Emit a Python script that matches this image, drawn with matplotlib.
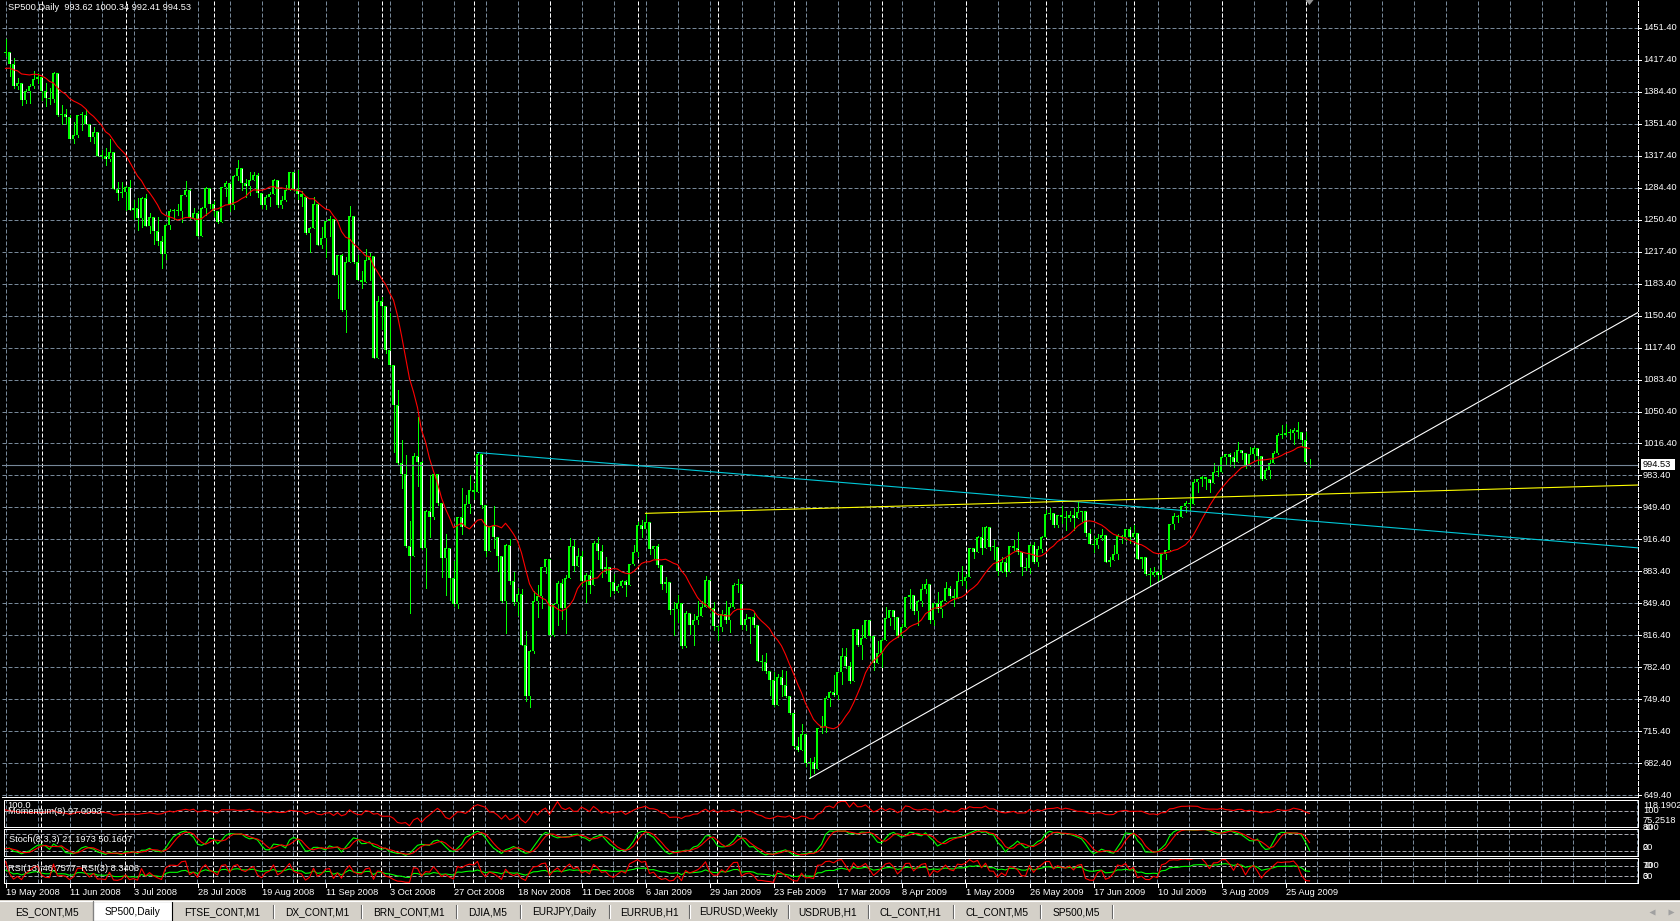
import numpy as np
import pandas as pd
import matplotlib
matplotlib.use('Agg')
import matplotlib.pyplot as plt
from matplotlib.patches import Rectangle, Polygon

# ---------------- data: SP500 daily, 19 May 2008 .. 2 Sep 2009 ----------------
warmup_closes = [1390.9, 1385.6, 1409.3, 1413.9, 1407.5, 1418.3, 1392.6, 1397.7, 1388.3,
                 1403.6, 1403.0, 1408.7, 1423.6, 1425.4]

opens = [
    1425.3, 1426.6, 1413.4, 1390.7, 1394.4, 1375.9, 1385.4, 1390.8, 1398.3,  # May 08
    1400.4, 1385.7, 1377.7, 1377.2, 1404.1, 1360.7, 1361.8, 1358.4, 1335.5, 1339.9, 1360.0,
    1360.1, 1350.9, 1337.8, 1342.8, 1317.9, 1318.0, 1314.3, 1322.0, 1283.2, 1278.4,  # Jun
    1280.0, 1284.9, 1261.5, 1262.9, 1252.3, 1273.7, 1244.7, 1253.4, 1239.5, 1228.3, 1214.9,
    1245.4, 1260.3, 1260.7, 1260.0, 1277.0, 1282.2, 1252.5, 1257.8, 1234.4, 1263.2, 1284.3,  # Jul
    1267.4, 1260.3, 1249.0, 1284.9, 1289.2, 1266.1, 1296.3, 1305.3, 1289.6, 1285.8, 1292.9,
    1298.2, 1278.6, 1266.7, 1274.5, 1277.7, 1292.2, 1266.8, 1271.5, 1281.7, 1300.7,  # Aug
    1282.8, 1277.6, 1275.0, 1236.8, 1242.3, 1267.8, 1224.5, 1232.0, 1249.1, 1251.7, 1192.7,
    1213.6, 1156.4, 1206.5, 1255.1, 1207.1, 1188.2, 1185.9, 1209.2, 1213.3, 1106.4,  # Sep
    1166.4, 1161.1, 1114.3, 1099.2, 1056.9, 996.2, 984.9, 909.9, 899.2, 1003.4, 998.0, 907.8,
    946.4, 940.6, 985.4, 955.1, 896.8, 908.1, 876.8, 848.9, 940.5, 930.1, 954.1,  # Oct
    968.8, 966.3, 1005.8, 952.8, 904.9, 931.0, 919.2, 899.0, 852.3, 911.3, 873.3, 850.8,
    859.1, 806.6, 752.4, 800.0, 851.8, 857.4, 887.7,  # Nov
    896.2, 816.2, 848.8, 870.7, 845.2, 876.1, 909.7, 888.7, 899.2, 873.6, 879.7, 868.6,
    913.2, 904.4, 885.3, 887.9, 871.6, 863.2, 868.2, 872.8, 869.4, 890.6,  # Dec
    903.3, 931.8, 927.5, 934.7, 906.7, 909.7, 890.4, 870.3, 871.8, 842.6, 843.7, 850.1,
    805.2, 840.2, 827.5, 832.0, 836.6, 845.7, 874.1, 845.1,  # Jan 09
    825.9, 825.4, 838.5, 832.2, 845.9, 868.6, 869.9, 827.2, 833.7, 835.2, 826.8, 789.2,
    788.4, 778.9, 770.1, 743.3, 773.1, 764.9, 752.8,  # Feb
    735.1, 700.8, 696.3, 712.9, 682.6, 683.4, 676.5, 719.6, 721.4, 750.7, 756.6, 753.9,
    778.1, 794.4, 784.0, 768.5, 822.9, 806.1, 813.9, 832.9, 815.9, 787.5,  # Mar
    797.9, 811.1, 834.4, 842.5, 835.5, 815.6, 825.2, 856.6, 858.7, 841.5, 852.1, 865.3,
    869.6, 832.4, 850.1, 843.6, 851.9, 866.2, 857.5, 855.2, 873.6,  # Apr
    872.8, 877.5, 907.2, 903.8, 919.5, 907.4, 929.2, 909.2, 908.4, 883.9, 893.1, 882.9,
    909.7, 908.1, 903.5, 888.3, 887.0, 910.3, 893.1, 906.8,  # May
    919.1, 942.9, 944.7, 931.8, 942.5, 940.1, 939.1, 942.4, 939.2, 944.9, 946.2, 923.7,
    912.0, 910.7, 918.4, 921.2, 893.0, 895.1, 900.9, 920.3, 918.9, 927.2,  # Jun
    919.3, 923.3, 896.4, 898.7, 881.0, 879.6, 882.7, 879.1, 901.1, 905.8, 932.7, 940.7,
    940.4, 951.1, 954.6, 954.1, 976.3, 979.3, 982.2, 979.6, 975.2, 986.8,  # Jul
    987.5, 1002.6, 1005.7, 1002.7, 997.1, 1010.5, 1007.1, 994.4, 1005.8, 1012.7, 1004.1,
    979.7, 989.7, 996.5, 1007.4, 1026.1, 1025.6, 1028.0, 1028.1, 1031.0, 1028.9,  # Aug
    1020.6, 993.6,  # Sep
]

highs = [
    1440.2, 1426.6, 1419.7, 1399.1, 1394.4, 1387.4, 1393.0, 1406.3, 1404.5,
    1400.4, 1393.4, 1388.2, 1405.3, 1404.1, 1370.6, 1366.8, 1360.0, 1353.0, 1360.5, 1363.5,
    1366.6, 1350.9, 1348.3, 1342.8, 1323.6, 1326.0, 1335.6, 1322.0, 1290.0, 1290.7,
    1285.7, 1292.2, 1271.2, 1273.9, 1274.7, 1277.4, 1257.7, 1253.4, 1253.5, 1234.4, 1246.0,
    1262.3, 1262.2, 1267.7, 1277.1, 1291.2, 1283.0, 1263.2, 1260.1, 1264.2, 1284.9, 1284.3,
    1270.5, 1260.3, 1284.9, 1291.7, 1289.2, 1297.9, 1313.2, 1305.3, 1294.0, 1300.9, 1300.8,
    1300.2, 1278.6, 1276.7, 1279.6, 1293.1, 1292.2, 1275.8, 1286.9, 1300.7, 1300.7,
    1303.0, 1280.6, 1275.0, 1243.1, 1274.4, 1268.7, 1243.7, 1249.1, 1255.1, 1251.7, 1214.0,
    1214.8, 1211.6, 1265.1, 1255.1, 1214.2, 1197.4, 1220.0, 1215.8, 1213.3, 1171.4,
    1170.1, 1161.1, 1153.8, 1099.2, 1072.9, 1021.1, 1005.0, 936.4, 1006.9, 1044.3, 999.0,
    947.7, 984.4, 985.4, 985.4, 955.1, 922.8, 908.1, 893.8, 940.5, 970.0, 963.2, 984.4,
    975.5, 1007.5, 1005.8, 952.8, 931.0, 951.9, 919.2, 899.0, 911.9, 916.9, 882.3, 865.9,
    864.6, 820.5, 801.2, 862.9, 868.9, 887.7, 896.3,
    896.2, 850.5, 873.1, 875.6, 879.4, 918.6, 916.3, 908.0, 904.6, 881.3, 884.6, 914.9,
    918.9, 911.0, 897.8, 887.9, 880.4, 869.8, 873.7, 873.7, 891.1, 910.3,
    934.7, 936.6, 943.9, 934.7, 910.0, 911.9, 890.4, 877.0, 871.8, 851.6, 858.1, 850.1,
    841.7, 840.2, 838.2, 852.5, 852.5, 877.9, 874.1, 851.7,
    825.9, 842.6, 851.9, 850.6, 870.7, 875.0, 869.9, 838.2, 835.5, 839.4, 826.8, 796.2,
    797.6, 778.9, 777.5, 775.5, 780.1, 779.4, 753.0,
    735.1, 709.7, 724.1, 712.9, 688.4, 689.0, 719.6, 731.9, 752.6, 758.3, 774.5, 778.1,
    803.0, 803.0, 788.9, 823.0, 823.3, 826.8, 832.9, 832.9, 815.9, 810.9,
    813.6, 845.6, 842.5, 842.5, 835.5, 828.4, 856.9, 864.3, 858.7, 853.4, 870.4, 875.6,
    869.6, 850.1, 861.8, 852.9, 871.8, 868.3, 864.5, 882.1, 888.7,
    880.5, 907.9, 907.7, 920.3, 929.6, 930.2, 929.2, 915.6, 908.4, 898.4, 897.0, 910.0,
    916.4, 924.6, 903.5, 896.7, 911.8, 913.8, 909.5, 920.0,
    947.8, 949.4, 944.7, 942.5, 951.7, 946.3, 946.3, 949.8, 956.2, 946.3, 946.2, 928.0,
    919.7, 922.0, 927.1, 921.4, 898.7, 910.9, 922.0, 921.4, 928.0, 930.0,
    931.9, 923.3, 898.7, 898.7, 886.8, 887.9, 883.6, 901.1, 905.8, 933.0, 944.0, 941.9,
    951.6, 956.5, 959.8, 979.4, 979.8, 982.5, 982.2, 979.6, 996.7, 993.2,
    1003.6, 1005.7, 1006.6, 1008.0, 1018.0, 1010.5, 1007.1, 1012.8, 1013.1, 1012.7, 1004.1,
    991.2, 999.8, 1008.9, 1027.6, 1035.8, 1037.8, 1032.5, 1033.0, 1039.5, 1028.9,
    1028.5, 1000.3,
]

lows = [
    1421.6, 1401.5, 1388.8, 1387.2, 1370.7, 1373.1, 1373.0, 1388.6, 1394.0,
    1376.0, 1370.1, 1371.7, 1373.6, 1359.9, 1350.6, 1351.5, 1335.1, 1331.3, 1337.4, 1344.7,
    1350.5, 1333.3, 1330.9, 1317.5, 1315.4, 1307.9, 1312.0, 1283.1, 1272.0, 1274.9,
    1260.7, 1261.5, 1252.0, 1240.7, 1242.8, 1244.6, 1236.8, 1225.4, 1225.0, 1200.4, 1210.2,
    1241.4, 1251.8, 1255.5, 1248.8, 1276.1, 1251.5, 1251.8, 1234.1, 1234.4, 1255.9, 1262.8,
    1254.5, 1247.5, 1249.0, 1276.0, 1260.0, 1262.1, 1292.8, 1282.4, 1274.9, 1276.6, 1292.7,
    1274.5, 1263.2, 1261.7, 1265.0, 1277.7, 1264.3, 1263.2, 1270.3, 1281.7, 1282.1,
    1272.2, 1265.6, 1236.3, 1217.3, 1242.3, 1224.5, 1221.6, 1211.5, 1233.8, 1192.7, 1169.3,
    1155.9, 1133.5, 1206.5, 1205.6, 1187.8, 1179.8, 1185.9, 1187.5, 1106.0, 1106.4,
    1136.5, 1111.4, 1098.1, 1008.0, 995.0, 970.0, 909.2, 839.8, 899.2, 972.1, 907.0,
    865.8, 918.7, 937.5, 952.5, 877.0, 858.4, 852.9, 846.8, 845.3, 922.3, 930.1, 944.6,
    958.8, 966.3, 949.9, 899.7, 904.9, 907.5, 884.1, 850.9, 818.7, 869.9, 848.0, 837.3,
    806.2, 747.8, 741.0, 798.0, 835.0, 845.0, 881.2,
    815.7, 816.0, 827.6, 833.6, 818.4, 876.1, 883.5, 888.7, 869.5, 851.4, 860.1, 868.6,
    895.9, 877.4, 882.0, 857.1, 860.7, 861.4, 866.5, 857.1, 869.4, 889.6,
    899.4, 919.5, 927.3, 901.3, 896.8, 888.3, 864.3, 862.0, 838.3, 817.0, 830.7, 803.4,
    804.3, 817.7, 806.1, 827.7, 836.6, 845.7, 843.2, 821.7,
    811.1, 821.0, 829.2, 819.9, 845.4, 861.7, 822.9, 822.0, 808.1, 825.2, 789.1, 780.4,
    777.0, 754.3, 742.4, 743.3, 752.9, 751.8, 734.5,
    699.7, 695.4, 696.3, 679.3, 666.8, 672.9, 676.5, 713.9, 714.8, 742.5, 753.4, 749.9,
    765.6, 781.8, 766.2, 768.5, 805.0, 791.4, 813.9, 814.3, 779.8, 787.5,
    783.3, 811.1, 826.7, 822.9, 814.5, 814.8, 825.2, 845.4, 838.9, 827.2, 847.0, 860.9,
    829.0, 826.8, 840.6, 835.6, 851.9, 855.2, 847.1, 855.2, 868.5,
    866.1, 877.5, 897.3, 903.8, 901.4, 907.4, 905.8, 896.5, 879.6, 882.5, 878.9, 882.9,
    905.2, 901.4, 879.6, 884.3, 881.5, 891.9, 888.7, 903.6,
    919.1, 938.5, 929.2, 929.3, 934.1, 926.4, 936.1, 926.0, 939.0, 935.7, 919.7, 911.6,
    903.4, 907.9, 915.8, 893.0, 888.9, 895.1, 896.3, 913.3, 916.2, 912.9,
    919.3, 896.4, 886.4, 879.9, 869.3, 878.5, 872.8, 875.3, 896.1, 905.8, 927.5, 934.9,
    940.4, 944.9, 947.9, 953.3, 965.9, 972.3, 969.4, 965.9, 975.2, 982.9,
    987.5, 994.3, 993.4, 992.5, 997.1, 1000.8, 991.0, 993.4, 1000.8, 994.6, 978.5,
    979.7, 980.6, 996.4, 1006.0, 1022.5, 1025.6, 1021.3, 1016.2, 1023.1, 1014.0,
    996.3, 992.4,
]

closes = [
    1426.6, 1413.4, 1390.7, 1394.4, 1375.9, 1385.4, 1390.8, 1398.3, 1400.4,
    1385.7, 1377.7, 1377.2, 1404.1, 1360.7, 1361.8, 1358.4, 1335.5, 1339.9, 1360.0, 1360.1,
    1350.9, 1337.8, 1342.8, 1317.9, 1318.0, 1314.3, 1322.0, 1283.2, 1278.4, 1280.0,
    1284.9, 1261.5, 1262.9, 1252.3, 1273.7, 1244.7, 1253.4, 1239.5, 1228.3, 1214.9, 1245.4,
    1260.3, 1260.7, 1260.0, 1277.0, 1282.2, 1252.5, 1257.8, 1234.4, 1263.2, 1284.3, 1267.4,
    1260.3, 1249.0, 1284.9, 1289.2, 1266.1, 1296.3, 1305.3, 1289.6, 1285.8, 1292.9, 1298.2,
    1278.6, 1266.7, 1274.5, 1277.7, 1292.2, 1266.8, 1271.5, 1281.7, 1300.7, 1282.8,
    1277.6, 1275.0, 1236.8, 1242.3, 1267.8, 1224.5, 1232.0, 1249.1, 1251.7, 1192.7, 1213.6,
    1156.4, 1206.5, 1255.1, 1207.1, 1188.2, 1185.9, 1209.2, 1213.3, 1106.4, 1166.4,
    1161.1, 1114.3, 1099.2, 1056.9, 996.2, 984.9, 909.9, 899.2, 1003.4, 998.0, 907.8,
    946.4, 940.6, 985.4, 955.1, 896.8, 908.1, 876.8, 848.9, 940.5, 930.1, 954.1, 968.8,
    966.3, 1005.8, 952.8, 904.9, 931.0, 919.2, 899.0, 852.3, 911.3, 873.3, 850.8, 859.1,
    806.6, 752.4, 800.0, 851.8, 857.4, 887.7, 896.2,
    816.2, 848.8, 870.7, 845.2, 876.1, 909.7, 888.7, 899.2, 873.6, 879.7, 868.6, 913.2,
    904.4, 885.3, 887.9, 871.6, 863.2, 868.2, 872.8, 869.4, 890.6, 903.3,
    931.8, 927.5, 934.7, 906.7, 909.7, 890.4, 870.3, 871.8, 842.6, 843.7, 850.1, 805.2,
    840.2, 827.5, 832.0, 836.6, 845.7, 874.1, 845.1, 825.9,
    825.4, 838.5, 832.2, 845.9, 868.6, 869.9, 827.2, 833.7, 835.2, 826.8, 789.2, 788.4,
    778.9, 770.1, 743.3, 773.1, 764.9, 752.8, 735.1,
    700.8, 696.3, 712.9, 682.6, 683.4, 676.5, 719.6, 721.4, 750.7, 756.6, 753.9, 778.1,
    794.4, 784.0, 768.5, 822.9, 806.1, 813.9, 832.9, 815.9, 787.5, 797.9,
    811.1, 834.4, 842.5, 835.5, 815.6, 825.2, 856.6, 858.7, 841.5, 852.1, 865.3, 869.6,
    832.4, 850.1, 843.6, 851.9, 866.2, 857.5, 855.2, 873.6, 872.8,
    877.5, 907.2, 903.8, 919.5, 907.4, 929.2, 909.2, 908.4, 883.9, 893.1, 882.9, 909.7,
    908.1, 903.5, 888.3, 887.0, 910.3, 893.1, 906.8, 919.1,
    942.9, 944.7, 931.8, 942.5, 940.1, 939.1, 942.4, 939.2, 944.9, 946.2, 923.7, 912.0,
    910.7, 918.4, 921.2, 893.0, 895.1, 900.9, 920.3, 918.9, 927.2, 919.3,
    923.3, 896.4, 898.7, 881.0, 879.6, 882.7, 879.1, 901.1, 905.8, 932.7, 940.7, 940.4,
    951.1, 954.6, 954.1, 976.3, 979.3, 982.2, 979.6, 975.2, 986.8, 987.5,
    1002.6, 1005.7, 1002.7, 997.1, 1010.5, 1007.1, 994.4, 1005.8, 1012.7, 1004.1, 979.7,
    989.7, 996.5, 1007.4, 1026.1, 1025.6, 1028.0, 1028.1, 1031.0, 1028.9, 1020.6,
    998.0, 994.5,
]

holidays = ['2008-05-26', '2008-07-04', '2008-09-01', '2008-11-27', '2008-12-25', '2009-01-01',
            '2009-01-19', '2009-02-16', '2009-04-10', '2009-05-25', '2009-07-03']

date_labels = ['19 May 2008', '11 Jun 2008', '3 Jul 2008', '28 Jul 2008', '19 Aug 2008',
               '11 Sep 2008', '3 Oct 2008', '27 Oct 2008', '18 Nov 2008', '11 Dec 2008',
               '6 Jan 2009', '29 Jan 2009', '23 Feb 2009', '17 Mar 2009', '8 Apr 2009',
               '1 May 2009', '26 May 2009', '17 Jun 2009', '10 Jul 2009', '3 Aug 2009',
               '25 Aug 2009']

price_labels = ['649.40', '682.40', '715.40', '749.40', '782.40', '816.40', '849.40', '883.40',
                '916.40', '949.40', '983.40', '1016.40', '1050.40', '1083.40', '1117.40',
                '1150.40', '1183.40', '1217.40', '1250.40', '1284.40', '1317.40', '1351.40',
                '1384.40', '1417.40', '1451.40']

bid = 994.53
header = 'SP500,Daily  993.62 1000.34 992.41 994.53'

# trend lines: (bar, price) anchors, drawn as rays to the right
trend_white = [(201, 666.8), (320, 946.7)]
trend_cyan = [(118, 1007.5), (320, 938.1)]
trend_yellow = [(160, 943.9), (320, 963.0)]

tabs = ['ES_CONT,M5', 'SP500,Daily', 'FTSE_CONT,M1', 'DX_CONT,M1', 'BRN_CONT,M1', 'DJIA,M5',
        'EURJPY,Daily', 'EURRUB,H1', 'EURUSD,Weekly', 'USDRUB,H1', 'CL_CONT,H1', 'CL_CONT,M5',
        'SP500,M5']

# ---------------- indicators ----------------
O = np.array(opens); Hh = np.array(highs); L = np.array(lows); C = np.array(closes)
n = len(C)
dates = pd.bdate_range('2008-05-19', '2009-09-02')
dates = dates[~dates.isin(pd.to_datetime(holidays))]
idx = np.arange(n)

nw = len(warmup_closes)
s_all = pd.Series(np.r_[warmup_closes, C])
ma13 = s_all.rolling(13).mean().to_numpy()[nw:]
momentum = (s_all / s_all.shift(8) * 100).to_numpy()[nw:]


def rsi(period):
    d = s_all.diff()
    up = d.clip(lower=0).ewm(alpha=1.0 / period, adjust=False).mean()
    dn = (-d.clip(upper=0)).ewm(alpha=1.0 / period, adjust=False).mean()
    return (100 - 100 / (1 + up / dn)).to_numpy()[nw:]


rsi13 = rsi(13)
rsi3 = rsi(3)
hs, ls, cs = pd.Series(Hh), pd.Series(L), pd.Series(C)
ll = ls.rolling(8, min_periods=1).min()
hh = hs.rolling(8, min_periods=1).max()
stoch_k = ((cs - ll).rolling(3, min_periods=1).sum() /
           (hh - ll).rolling(3, min_periods=1).sum() * 100).to_numpy()
stoch_d = pd.Series(stoch_k).rolling(3, min_periods=1).mean().to_numpy()

mon = np.asarray(dates.month)
month_starts = np.where(mon[1:] != mon[:-1])[0] + 1

# ---------------- layout helpers ----------------
W, H = 1680, 921
plt.rcParams['font.family'] = ['Liberation Sans', 'DejaVu Sans']
FS = 6.7
LIME = '#00FF00'
GRID = '#778899'
fig = plt.figure(figsize=(W / 100, H / 100), dpi=100, facecolor='black')

PX = 767 / 802.0            # pixels per index point


def rect(l, t, r, b):
    return [l / W, 1 - b / H, (r - l) / W, (b - t) / H]


def xr(l, r):
    return ((l - 5.5) / 4.0, (r - 5.5) / 4.0)


def price_y(p):
    return 28 + (1451.4 - p) * PX


def price_at(y):
    return 1451.4 - (y - 28) / PX


grid_kw = dict(color=GRID, lw=0.72, ls=(0, (4, 2)), zorder=0.5)
sep_kw = dict(color='white', lw=0.72, ls=(0, (4, 2)), zorder=0.6)
grid_bars = np.arange(0, 409, 8)
grid_prices = np.linspace(649.4, 1451.4, len(price_labels))

# ---------------- main chart ----------------
ax = fig.add_axes(rect(2, 1, 1638, 797), facecolor='black')
ax.set_xlim(*xr(2, 1638))
ax.set_ylim(price_at(797), price_at(1))
for p in grid_prices:
    ax.axhline(p, **grid_kw)
for i in grid_bars:
    ax.axvline(i, **grid_kw)
for i in month_starts:
    ax.axvline(i, **sep_kw)

# candles
lo = np.minimum(O, C)
hi = np.maximum(O, C)
one_px = 1 / PX
ax.vlines(idx, L, Hh, colors=LIME, lw=0.72, antialiased=False, zorder=2)
hgt = np.maximum(hi - lo, one_px)
ax.bar(idx, hgt, bottom=lo, width=0.75, color=LIME, linewidth=0, antialiased=False, zorder=3)
big = (hi - lo) > 2.5 * one_px
inner = np.where(C >= O, 'black', 'white')
ax.vlines(idx[big], lo[big] + one_px, hi[big] - one_px, colors=inner[big], lw=0.72,
          antialiased=False, zorder=4)

ax.plot(idx, ma13, color='red', lw=0.8, zorder=5)

ax.axhline(bid, color=GRID, lw=0.8, zorder=6)
x_right = xr(2, 1638)[1]
for line, col in [(trend_white, 'white'), (trend_cyan, '#00C8D8'), (trend_yellow, '#FFFF00')]:
    (x0, y0), (x1, y1) = line
    slope = (y1 - y0) / (x1 - x0)
    ax.plot([x0, x_right], [y0, y0 + slope * (x_right - x0)], color=col, lw=0.8, zorder=7)

ax.set_xticks([]); ax.set_yticks([])
for k in ['left', 'top']:
    ax.spines[k].set_visible(False)
ax.spines['bottom'].set_color('white'); ax.spines['bottom'].set_linewidth(0.72)
ax.spines['right'].set_color('white'); ax.spines['right'].set_linewidth(0.72)
ax.spines['right'].set_linestyle((0, (4, 2)))


# ---------------- sub panels ----------------
def sub_panel(t, b, ylim, levels):
    a = fig.add_axes(rect(4, t, 1638, b), facecolor='black')
    a.set_xlim(*xr(4, 1638))
    a.set_ylim(*ylim)
    for i in grid_bars:
        a.axvline(i, **grid_kw)
    for i in month_starts:
        a.axvline(i, **sep_kw)
    for lv in levels:
        a.axhline(lv, color='#A8A8B0', lw=0.72, ls=(0, (4, 2)), zorder=0.7)
    a.set_xticks([]); a.set_yticks([])
    for sp in a.spines.values():
        sp.set_color('white'); sp.set_linewidth(0.72)
    return a


a_mom = sub_panel(800, 827, (75.2518, 118.1902), [100])
a_mom.plot(idx, momentum, color='red', lw=0.8)
a_sto = sub_panel(829, 856, (0, 100), [80, 20])
a_sto.plot(idx, stoch_k, color=LIME, lw=0.8)
a_sto.plot(idx, stoch_d, color='red', lw=0.8)
a_rsi = sub_panel(858, 883, (0, 100), [70, 30])
a_rsi.plot(idx, rsi13, color=LIME, lw=0.8)
a_rsi.plot(idx, rsi3, color='red', lw=0.8)

# ---------------- overlay: texts, scales, tab bar ----------------
ov = fig.add_axes([0, 0, 1, 1])
ov.set_xlim(0, W); ov.set_ylim(H, 0); ov.axis('off'); ov.set_zorder(10)
txt = dict(color='white', fontsize=FS, va='center', ha='left')

ov.text(8, 8, header, **txt)
for p, lab in zip(grid_prices, price_labels):
    y = price_y(p)
    ov.plot([1638, 1641], [y, y], color='white', lw=0.72)
    ov.text(1643, y, lab, **txt)

yb = price_y(bid)
ov.add_patch(Rectangle((1641, yb - 5.5), 34, 11, fc='white', ec='none'))
ov.text(1643, yb, '994.53', color='black', fontsize=FS, va='center', ha='left')

# chart shift marker
xs = 5.5 + 4 * (n - 1)
ov.add_patch(Polygon([[xs - 4, 0], [xs + 4, 0], [xs, 5]], closed=True, fc='#909090', ec='none'))

# sub panel captions and scales
ov.text(7, 805, '100.0', **txt)
ov.text(8, 811, 'Momentum(8) 97.0093', **txt)
ov.text(9, 839, 'Stoch(8,3,3) 21.1973 50.1607', **txt)
ov.text(8, 868, 'RSI(13) 46.7577  RSI(3) 8.3406', **txt)
for lab, y in [('118.1902', 805.5), ('100', 810.5), ('75.2518', 820),
               ('80', 827), ('100', 827), ('20', 847), ('0', 847),
               ('70', 865.5), ('100', 865.5), ('30', 876), ('0', 876)]:
    ov.text(1643, y, lab, **txt)

# date axis
for k, lab in enumerate(date_labels):
    x = 5.5 + 4 * 16 * k
    ov.plot([x, x], [883, 887], color='white', lw=0.72)
    ov.text(x + 1, 892, lab, **txt)

# tab bar
ov.add_patch(Rectangle((0, 900), W, 21, fc='#D4D0C8', ec='none'))
ov.plot([0, W], [900.5, 900.5], color='white', lw=0.8)
ov.plot([92.5, 92.5], [901, 921], color='#808080', lw=0.8)
ov.add_patch(Rectangle((93, 901), 79, 20, fc='white', ec='black', lw=0.8))
seps = [0, 93, 172, 273, 361, 456, 520, 609, 689, 788, 868, 953, 1040, 1112]
for k, name in enumerate(tabs):
    xc = (seps[k] + seps[k + 1]) / 2
    ov.text(xc, 912, name, color='black', fontsize=7.3, va='center', ha='center')
for x in seps[3:]:
    ov.plot([x, x], [905, 918], color='#606060', lw=0.8)
    ov.plot([x + 1, x + 1], [905, 918], color='white', lw=0.8)
ov.plot(1652, 912, marker='<', ms=4, color='#A0A0A0', mec='none')
ov.plot(1671, 912, marker='>', ms=4, color='#A0A0A0', mec='none')

fig.savefig('out.png', dpi=100, facecolor='black')
